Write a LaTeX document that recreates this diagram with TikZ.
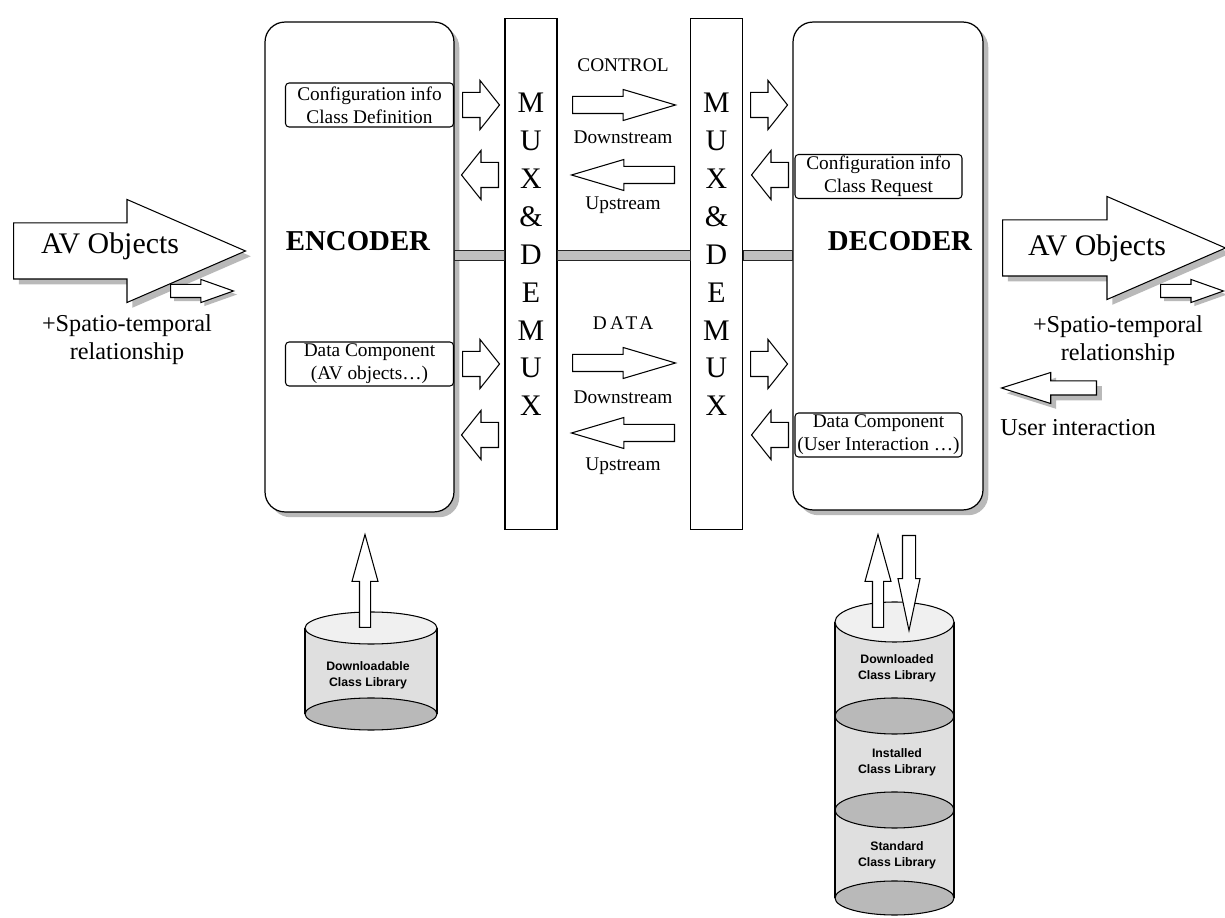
\documentclass[tikz,border=0pt]{standalone}
\usepackage{fontspec}
\setmainfont{Liberation Serif}
\newfontfamily\cylfont{Liberation Sans}
\usetikzlibrary{shapes.arrows,shadows}

\begin{document}
\begin{tikzpicture}[x=0.02cm,y=-0.02cm,line width=0.6pt,
  shade/.style={drop shadow={shadow xshift=3pt,shadow yshift=-3pt,fill=gray!55,opacity=1}},
  unit/.style={draw,line width=0.7pt,rounded corners=0.4cm,fill=white,shade},
  unitlbl/.style={font=\bfseries\fontsize{16.4}{18}\selectfont},
  muxbox/.style={draw,fill=white,minimum width=1.04cm,minimum height=10.24cm},
  muxletter/.style={font=\fontsize{17}{19}\selectfont},
  infobox/.style={draw,fill=white,rounded corners=2pt,minimum width=3.36cm,minimum height=0.88cm,inner sep=0pt,align=center,font=\fontsize{11}{13}\selectfont},
  lbl/.style={font=\fontsize{11}{13}\selectfont},
  biglbl/.style={font=\fontsize{17}{19}\selectfont},
  notelbl/.style={align=center,font=\fontsize{13.8}{16}\selectfont},
  cyllbl/.style={align=center,font=\cylfont\bfseries\fontsize{7}{9}\selectfont},
  bar/.style={fill=gray!50,draw=gray!30!black,line width=0.5pt},
  blockarr/.style={single arrow,draw,fill=white,inner xsep=0pt,anchor=tail},
  sidearr/.style={blockarr,inner ysep=0.24cm,minimum height=0.74cm,minimum width=0.96cm,single arrow head extend=0.24cm,single arrow tip angle=103},
  midarr/.style={blockarr,inner ysep=0.16cm,minimum height=2.06cm,minimum width=0.6cm,single arrow head extend=0.14cm,single arrow tip angle=33},
  avarr/.style={blockarr,shade,inner ysep=0.55cm,minimum height=4.64cm,minimum width=2.04cm,single arrow head extend=0.47cm,single arrow tip angle=47},
  smallarr/.style={blockarr,drop shadow={shadow xshift=2pt,shadow yshift=-2pt,fill=gray!55,opacity=1},inner ysep=0.12cm,minimum height=1.26cm,minimum width=0.44cm,single arrow head extend=0.1cm,single arrow tip angle=39},
  userarr/.style={blockarr,shade,inner ysep=0.13cm,minimum height=1.9cm,minimum width=0.6cm,single arrow head extend=0.17cm,single arrow tip angle=35},
  libup/.style={blockarr,shape border rotate=90,inner xsep=0.1cm,inner ysep=0pt,minimum height=1.86cm,minimum width=0.5cm,single arrow head extend=0.15cm,single arrow tip angle=31},
  libdown/.style={blockarr,shape border rotate=270,inner xsep=0.12cm,inner ysep=0pt,minimum height=1.9cm,minimum width=0.42cm,single arrow head extend=0.09cm,single arrow tip angle=24},
  left/.style={shape border rotate=180}]
\path[use as bounding box,fill=white] (0,0) rectangle (1225,918);

\node[unit,minimum width=3.78cm,minimum height=9.8cm] (encoder) at (359.5,267) {};
\node[unit,minimum width=3.8cm,minimum height=9.76cm] (decoder) at (888,266) {};
\node[unitlbl] (enclbl) at (358,241) {ENCODER};
\node[unitlbl] (declbl) at (900,241) {DECODER};

\node[infobox] (encctl) at (369.5,105) {Configuration info\\Class Definition};
\node[infobox] (encdat) at (369.5,364) {Data Component\\(AV objects\dots)};
\node[infobox,minimum width=3.34cm] (decctl) at (878.5,176.5) {Configuration info\\Class Request};
\node[infobox,minimum width=3.34cm] (decdat) at (878.5,435) {Data Component\\(User Interaction \dots)};

\node[muxbox] (muxl) at (531,274) {};
\node[muxbox] (muxr) at (716.5,274) {};
\foreach \l [count=\i] in {M,U,X,\&,D,E,M,U,X} {
  \node[muxletter] (ml\i) at (531,{103+37.9*(\i-1)}) {\l};
  \node[muxletter] (mr\i) at (716.5,{103+37.9*(\i-1)}) {\l};
}

\coordinate (bartop) at (0,250);
\coordinate (barbot) at (0,260);
\draw[bar] (encoder.east |- bartop) rectangle (muxl.west |- barbot);
\draw[bar] (muxl.east |- bartop) rectangle (muxr.west |- barbot);
\draw[bar] (muxr.east |- bartop) rectangle (decoder.west |- barbot);

\node[sidearr] (ectlout) at (462,105) {};
\node[sidearr,left] (ectlin) at (499,175) {};
\node[sidearr] (edatout) at (462,364) {};
\node[sidearr,left] (edatin) at (499,435) {};
\node[sidearr] (dctlin) at (750,105) {};
\node[sidearr,left] (dctlout) at (789,175) {};
\node[sidearr] (ddatin) at (750,364) {};
\node[sidearr,left] (ddatout) at (789,435) {};

\node[midarr] (ctldown) at (572,105) {};
\node[midarr,left] (ctlup) at (675,175) {};
\node[midarr] (datdown) at (572,363) {};
\node[midarr,left] (datup) at (675,433) {};
\node[lbl] (ctllbl) at (623,65) {CONTROL};
\node[lbl] (ctldnlbl) at (623,137) {Downstream};
\node[lbl] (ctluplbl) at (623,205) {Upstream};
\node[lbl] (datlbl) at (623,323) {\addfontfeatures{LetterSpace=18}DATA};
\node[lbl] (datdnlbl) at (623,397) {Downstream};
\node[lbl] (datuplbl) at (623,466) {Upstream};

\node[avarr] (avin) at (13,251) {};
\node[smallarr] (stin) at (170,291) {};
\node[biglbl] (avinlbl) at (110,246) {AV Objects};
\node[notelbl] (stinlbl) at (127,340) {+Spatio-temporal\\relationship};
\node[avarr,minimum height=4.46cm] (avout) at (1002,248) {};
\node[smallarr] (stout) at (1160,291) {};
\node[biglbl] (avoutlbl) at (1097,248) {AV Objects};
\node[notelbl] (stoutlbl) at (1118,341) {+Spatio-temporal\\relationship};
\node[userarr,left] (user) at (1097,388) {};
\node[notelbl] (userlbl) at (1078,428) {User interaction};

\fill[gray!25] (305,628) -- (305,714) arc[start angle=180,end angle=360,x radius=1.32cm,y radius=0.32cm] -- (437,628) -- cycle;
\draw[fill=gray!55] (371,714) ellipse[x radius=1.32cm,y radius=0.32cm];
\draw (305,628) -- (305,714) (437,628) -- (437,714);
\draw[fill=gray!12] (371,628) ellipse[x radius=1.32cm,y radius=0.32cm];
\node[cyllbl] (dlable) at (368,675) {Downloadable\\Class Library};
\node[libup] (encup) at (365,628) {};

\fill[gray!25] (835,622) -- (835,898) arc[start angle=180,end angle=360,x radius=1.19cm,y radius=0.34cm] -- (954,622) -- cycle;
\draw[fill=gray!55] (894.5,898) ellipse[x radius=1.19cm,y radius=0.34cm];
\draw[fill=gray!55] (894.5,810) ellipse[x radius=1.19cm,y radius=0.36cm];
\draw[fill=gray!55] (894.5,716) ellipse[x radius=1.19cm,y radius=0.36cm];
\draw (835,622) -- (835,898) (954,622) -- (954,898);
\draw[fill=gray!12] (894.5,622) ellipse[x radius=1.19cm,y radius=0.4cm];
\node[cyllbl] (dled) at (897,668) {Downloaded\\Class Library};
\node[cyllbl] (inst) at (897,762) {Installed\\Class Library};
\node[cyllbl] (stdl) at (897,855) {Standard\\Class Library};
\node[libup] (decup) at (878,628) {};
\node[libdown] (decdown) at (909,535) {};
\end{tikzpicture}
\end{document}
